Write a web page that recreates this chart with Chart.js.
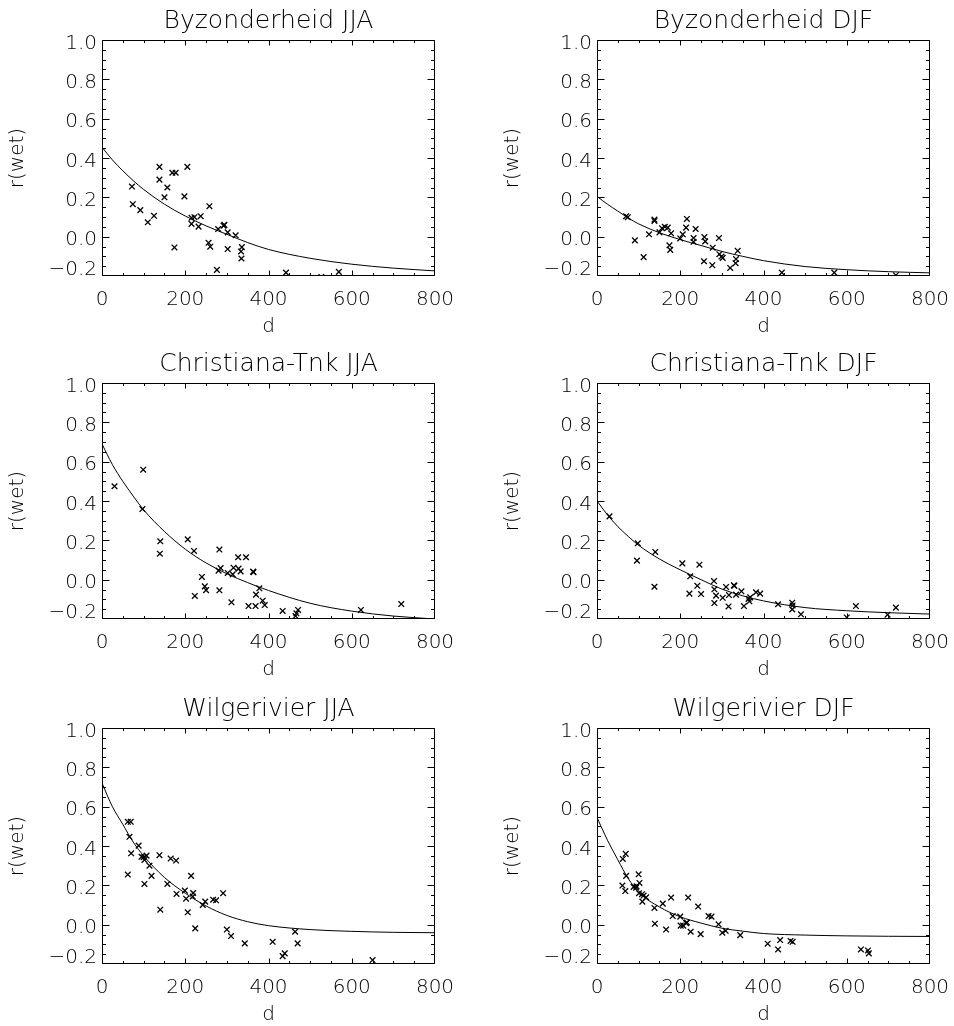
<!DOCTYPE html>
<html>
<head>
<meta charset="utf-8">
<script src="https://cdn.jsdelivr.net/npm/chart.js@4.4.1/dist/chart.umd.min.js"></script>
<style>
  html, body { margin: 0; padding: 0; background: #fff; overflow: hidden; }
  #page { position: relative; width: 954px; height: 1026px; background: #fff; }
  #page canvas { position: absolute; }
</style>
</head>
<body>
<div id="page"></div>
<script>
const fitD = [0, 25, 50, 75, 100, 150, 200, 250, 300, 350, 400, 500, 600, 700, 800];

// Byzonderheid JJA
const byzJjaD = [72, 74, 92, 110, 125, 138, 138, 157, 150, 169, 177, 174, 198, 205, 215, 215, 222, 232, 237, 258, 256, 260, 276, 279, 292, 294, 302, 302, 321, 334, 335, 336, 442, 527, 569];
const byzJjaR = [0.255, 0.165, 0.135, 0.073, 0.106, 0.355, 0.29, 0.25, 0.2, 0.325, 0.325, -0.055, 0.205, 0.355, 0.096, 0.065, 0.099, 0.051, 0.104, 0.155, -0.031, -0.051, -0.169, 0.039, 0.056, 0.06, 0.022, -0.063, 0.007, -0.075, -0.111, -0.053, -0.183, -0.205, -0.179];
const byzJjaFit = [0.455, 0.39, 0.335, 0.285, 0.24, 0.165, 0.105, 0.055, 0.012, -0.03, -0.065, -0.11, -0.14, -0.16, -0.174];

// Byzonderheid DJF
const byzDjfD = [70, 74, 91, 112, 125, 138, 138, 150, 156, 163, 170, 174, 176, 178, 200, 206, 214, 216, 232, 232, 237, 258, 260, 257, 277, 278, 293, 294, 299, 302, 320, 333, 334, 338, 444, 570, 718];
const byzDjfR = [0.104, 0.099, -0.019, -0.104, 0.012, 0.087, 0.08, 0.022, 0.043, 0.05, 0.046, -0.044, -0.067, 0.017, -0.009, 0.012, 0.046, 0.09, -0.007, -0.026, 0.039, -0.002, -0.024, -0.125, -0.145, -0.056, -0.007, -0.089, -0.101, -0.108, -0.159, -0.135, -0.114, -0.072, -0.183, -0.183, -0.196];
const byzDjfFit = [0.205, 0.165, 0.13, 0.095, 0.065, 0.02, -0.015, -0.045, -0.075, -0.1, -0.122, -0.152, -0.168, -0.178, -0.184];

// Christiana-Tnk JJA
const chrJjaD = [30, 99, 97, 140, 139, 206, 221, 223, 240, 247, 250, 282, 285, 280, 282, 302, 311, 316, 314, 327, 328, 333, 346, 352, 363, 364, 369, 370, 378, 386, 391, 434, 467, 471, 465, 622, 719];
const chrJjaR = [0.475, 0.559, 0.359, 0.195, 0.132, 0.205, 0.146, -0.083, 0.014, -0.034, -0.053, 0.153, 0.059, 0.046, -0.054, 0.034, -0.115, 0.061, 0.027, 0.114, 0.056, 0.042, 0.114, -0.134, 0.041, 0.038, -0.134, -0.076, -0.044, -0.107, -0.129, -0.159, -0.171, -0.154, -0.185, -0.154, -0.124];
const chrJjaFit = [0.69, 0.585, 0.5, 0.425, 0.355, 0.245, 0.155, 0.085, 0.03, -0.015, -0.055, -0.12, -0.16, -0.185, -0.2];

// Christiana-Tnk DJF
const chrDjfD = [30, 98, 96, 140, 138, 205, 246, 224, 222, 241, 250, 281, 282, 282, 286, 302, 310, 317, 316, 329, 330, 334, 347, 353, 364, 366, 368, 382, 392, 435, 469, 470, 469, 490, 600, 622, 698, 718];
const chrDjfR = [0.322, 0.185, 0.097, 0.141, -0.036, 0.083, 0.076, 0.017, -0.071, -0.031, -0.073, -0.007, -0.049, -0.119, -0.081, -0.092, -0.037, -0.078, -0.136, -0.029, -0.031, -0.076, -0.059, -0.134, -0.098, -0.11, -0.09, -0.064, -0.071, -0.125, -0.117, -0.131, -0.151, -0.176, -0.192, -0.134, -0.178, -0.142];
const chrDjfFit = [0.4, 0.33, 0.27, 0.22, 0.175, 0.105, 0.05, 0.0, -0.048, -0.082, -0.108, -0.142, -0.158, -0.168, -0.175];

// Wilgerivier JJA
const wilJjaD = [62, 69, 66, 70, 62, 88, 95, 100, 102, 107, 102, 114, 119, 138, 140, 157, 165, 178, 179, 199, 202, 206, 214, 218, 219, 224, 242, 248, 267, 274, 291, 300, 310, 343, 410, 434, 439, 464, 470, 650];
const wilJjaR = [0.523, 0.523, 0.447, 0.363, 0.255, 0.402, 0.345, 0.343, 0.329, 0.351, 0.207, 0.3, 0.248, 0.353, 0.076, 0.207, 0.336, 0.326, 0.156, 0.173, 0.132, 0.063, 0.248, 0.143, 0.161, -0.019, 0.1, 0.117, 0.127, 0.124, 0.16, -0.025, -0.058, -0.095, -0.087, -0.16, -0.146, -0.036, -0.095, -0.18];
const wilJjaFit = [0.72, 0.6, 0.51, 0.42, 0.35, 0.24, 0.16, 0.095, 0.047, 0.015, -0.005, -0.025, -0.034, -0.039, -0.041];

// Wilgerivier DJF
const wilDjfD = [62, 69, 70, 61, 68, 88, 94, 95, 100, 102, 101, 108, 112, 109, 118, 138, 139, 158, 166, 178, 182, 200, 201, 207, 214, 216, 219, 225, 243, 249, 268, 275, 292, 301, 309, 344, 410, 435, 440, 465, 470, 634, 651, 653];
const wilDjfR = [0.334, 0.36, 0.248, 0.199, 0.171, 0.192, 0.188, 0.195, 0.256, 0.212, 0.16, 0.155, 0.148, 0.117, 0.139, 0.085, 0.005, 0.107, -0.025, 0.138, 0.044, 0.041, -0.005, -0.005, 0.008, 0.011, 0.138, -0.036, 0.092, -0.048, 0.044, 0.041, 0.002, -0.041, -0.031, -0.053, -0.097, -0.126, -0.078, -0.083, -0.087, -0.126, -0.131, -0.146];
const wilDjfFit = [0.545, 0.43, 0.33, 0.235, 0.165, 0.09, 0.04, 0.008, -0.018, -0.033, -0.045, -0.053, -0.057, -0.059, -0.06];

const panels = [
  { title: 'Byzonderheid JJA', d: byzJjaD, r: byzJjaR, fit: byzJjaFit },
  { title: 'Byzonderheid DJF', d: byzDjfD, r: byzDjfR, fit: byzDjfFit },
  { title: 'Christiana-Tnk JJA', d: chrJjaD, r: chrJjaR, fit: chrJjaFit },
  { title: 'Christiana-Tnk DJF', d: chrDjfD, r: chrDjfR, fit: chrDjfFit },
  { title: 'Wilgerivier JJA', d: wilJjaD, r: wilJjaR, fit: wilJjaFit },
  { title: 'Wilgerivier DJF', d: wilDjfD, r: wilDjfR, fit: wilDjfFit }
];

const colLeft = [0, 495];
const rowTop = [0, 343, 688];

Chart.defaults.font.family = "'DejaVu Sans', sans-serif";
Chart.defaults.font.weight = '300';
Chart.defaults.color = '#000';

// IDL style box: frame on all four sides with inward major/minor ticks
const idlFrame = {
  id: 'idlFrame',
  afterDatasetsDraw(chart) {
    const { ctx, chartArea: a, scales: { x, y } } = chart;
    const L = Math.round(a.left) + 0.5, R = Math.round(a.right) - 0.5;
    const T = Math.round(a.top) + 0.5, B = Math.round(a.bottom) - 0.5;
    const clamp = (v, lo, hi) => Math.min(hi, Math.max(lo, v));
    ctx.save();
    ctx.strokeStyle = '#000';
    ctx.lineWidth = 1;
    ctx.beginPath();
    ctx.rect(L, T, R - L, B - T);
    for (let v = 0; v <= 800; v += 50) {
      const px = clamp(Math.round(x.getPixelForValue(v)) + 0.5, L, R);
      const len = v % 200 === 0 ? 5 : 2.5;
      ctx.moveTo(px, B); ctx.lineTo(px, B - len);
      ctx.moveTo(px, T); ctx.lineTo(px, T + len);
    }
    for (let i = 0; i <= 24; i++) {
      const py = clamp(Math.round(y.getPixelForValue(-0.2 + i * 0.05)) + 0.5, T, B);
      const len = i % 4 === 0 ? 7 : 3.5;
      ctx.moveTo(L, py); ctx.lineTo(L + len, py);
      ctx.moveTo(R, py); ctx.lineTo(R - len, py);
    }
    ctx.stroke();
    ctx.restore();
  }
};

// y labels like IDL: the lowest one is pulled up inside the box
const yLabel = v => {
  if (Math.abs(v) < 1e-9) return '0.0';
  const s = v.toFixed(1).replace('-', '\u2212');
  return v < -0.19 ? [s, ''] : s;
};

const page = document.getElementById('page');

panels.forEach((p, i) => {
  const col = i % 2, row = Math.floor(i / 2);
  const canvas = document.createElement('canvas');
  canvas.width = 454;
  canvas.height = 340;
  canvas.style.left = colLeft[col] + 'px';
  canvas.style.top = rowTop[row] + 'px';
  page.appendChild(canvas);

  new Chart(canvas, {
    type: 'scatter',
    data: {
      datasets: [
        {
          data: p.d.map((d, k) => ({ x: d, y: p.r[k] })),
          pointStyle: 'crossRot',
          pointRadius: 4,
          pointBorderWidth: 1.3,
          borderColor: '#000',
          backgroundColor: '#000'
        },
        {
          data: fitD.map((d, k) => ({ x: d, y: p.fit[k] })),
          showLine: true,
          pointRadius: 0,
          borderColor: '#000',
          borderWidth: 1,
          cubicInterpolationMode: 'monotone'
        }
      ]
    },
    options: {
      responsive: false,
      animation: false,
      events: [],
      layout: { padding: { left: 0, top: 0, right: 19, bottom: 0 } },
      plugins: {
        legend: { display: false },
        tooltip: { enabled: false },
        title: {
          display: true,
          fullSize: false,
          text: p.title,
          color: '#000',
          font: { size: 25, weight: '300', lineHeight: 1 },
          padding: { top: 9, bottom: 6 }
        }
      },
      scales: {
        x: {
          type: 'linear',
          min: 0,
          max: 800,
          grid: { display: false, drawTicks: false },
          border: { display: false },
          ticks: { stepSize: 200, autoSkip: false, padding: 14, font: { size: 20, lineHeight: 1 }, maxRotation: 0, callback: v => String(v) },
          title: { display: true, text: 'd', font: { size: 20, lineHeight: 1 }, padding: { top: 0, bottom: 3 } },
          afterFit(s) { s.height = 64; s.paddingLeft = 0; s.paddingRight = 0; }
        },
        y: {
          type: 'linear',
          min: -0.2,
          max: 1.0,
          grid: { display: false, drawTicks: false },
          border: { display: false },
          ticks: {
            stepSize: 0.2, autoSkip: false, padding: 5, labelOffset: 3.5,
            font: { size: 20, lineHeight: 1 },
            callback: yLabel
          },
          title: { display: true, text: 'r(wet)', font: { size: 20, lineHeight: 1 }, padding: { top: 8, bottom: 0 } },
          afterFit(s) { s.width = 102; s.paddingTop = 0; s.paddingBottom = 0; }
        }
      }
    },
    plugins: [idlFrame]
  });
});
</script>
</body>
</html>
